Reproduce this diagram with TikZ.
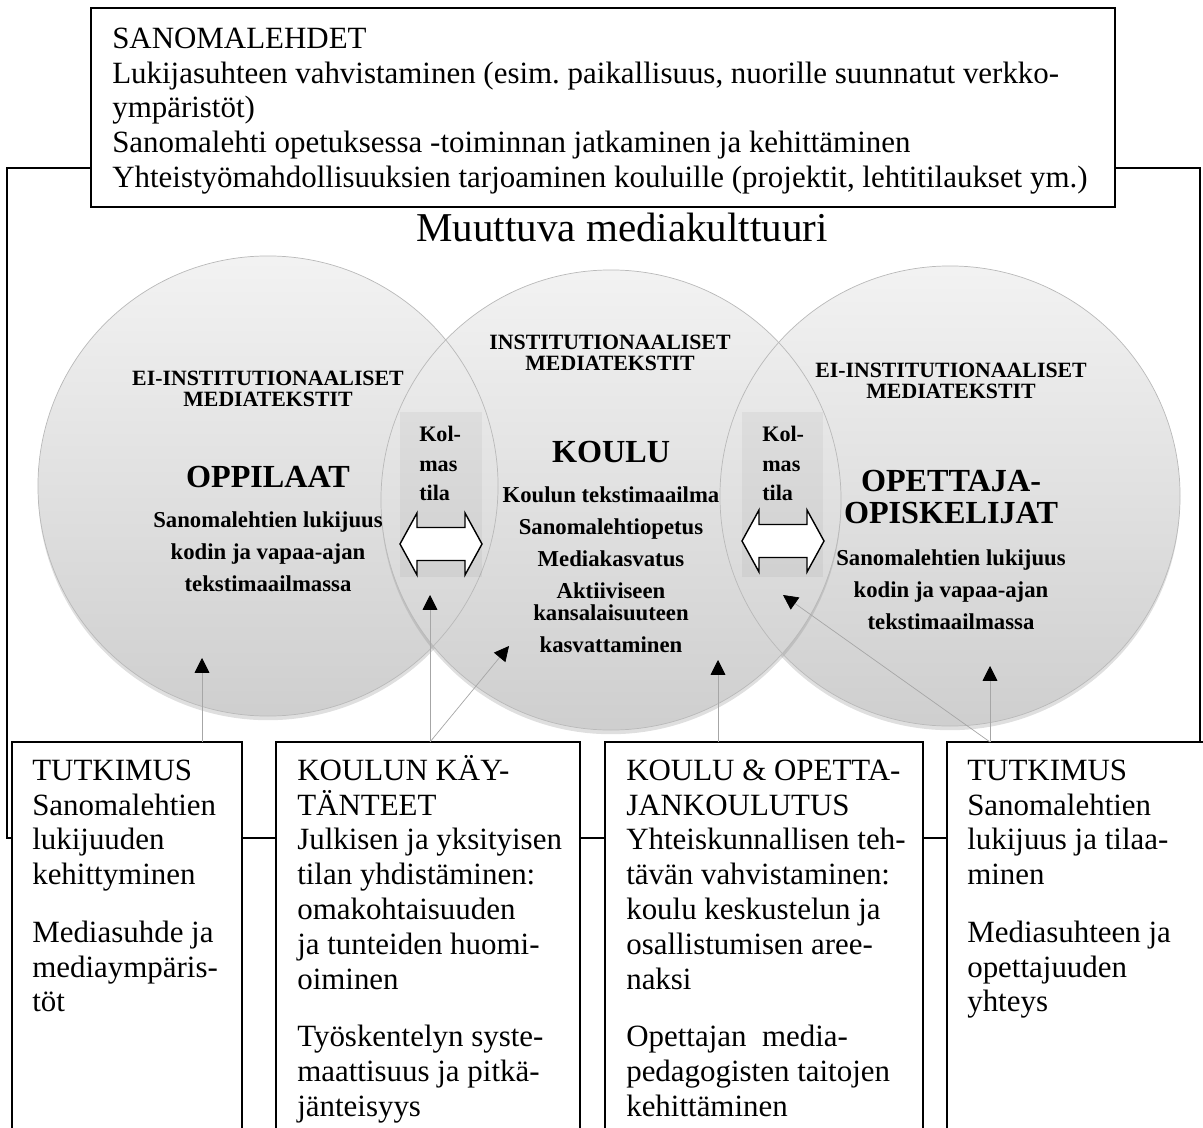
\documentclass[tikz,border=0pt]{standalone}
\usepackage{fontspec}
\setmainfont{Liberation Serif}[Scale=1.1]
\usetikzlibrary{positioning,calc,arrows.meta,shadows}

\newcommand{\bodystrut}{\rule{0pt}{20pt}}
\newcommand{\boldstrut}{\rule{0pt}{14pt}}
\newcommand{\bigstrut}{\rule{0pt}{20pt}}

\tikzset{
  frameline/.style={draw=black, line width=0.8pt},
  textbox/.style={draw=black, line width=1pt, fill=white, inner sep=0pt, outer sep=0pt, anchor=north west},
  bodytext/.style={anchor=north west, align=left, inner sep=0pt, font=\fontsize{20}{24.8}\selectfont},
  bubble/.style={circle, minimum size=460*0.025cm, inner sep=0pt, top color=white!95!black, bottom color=white!81!black,
    drop shadow={opacity=0.25, shadow xshift=0pt, shadow yshift=-3pt}},
  rim/.style={draw=gray!55, line width=0.5pt},
  headtext/.style={align=center, anchor=north, inner sep=0pt, font=\bfseries\fontsize{14.1}{14.9}\selectfont},
  bigtext/.style={align=center, anchor=north, inner sep=0pt, font=\bfseries\fontsize{20.8}{22.7}\selectfont},
  circtext/.style={align=center, anchor=north, inner sep=0pt, font=\bfseries\fontsize{14.7}{22.7}\selectfont},
  kolmas/.style={fill=black, fill opacity=0.045, draw=none},
  kolmastext/.style={align=left, anchor=north west, inner sep=0pt, font=\bfseries\fontsize{14.3}{20.9}\selectfont},
  tiparrow/.style={draw=gray!70, line width=0.5pt, -{Triangle[length=10.5pt,width=10.5pt,color=black,fill=black]}},
  bothways/.style={draw=black, line width=1pt, fill=white}
}

\begin{document}
\begin{tikzpicture}[x=0.025cm, y=-0.025cm]
\useasboundingbox (0,0) rectangle (1203,1128);

% outer frame behind everything
\draw[frameline] (7,168) rectangle (1200,838);

% the three circles
\node[bubble] (oppilaat) at (268,486) {};
\node[bubble] (opettajat) at (950,496) {};
\node[bubble] (koulu) at (611,500) {};
\draw[rim] (oppilaat.center) circle[radius=5.75cm];
\draw[rim] (opettajat.center) circle[radius=5.75cm];
\draw[rim] (koulu.center) circle[radius=5.75cm];

% third space
\fill[kolmas] (400,412) rectangle (482,577);
\fill[kolmas] (742,412) rectangle (823,577);
\node[kolmastext] (kolmasL) at (419,422) {\boldstrut Kol-\\mas\\tila};
\node[kolmastext] (kolmasR) at (762,422) {\boldstrut Kol-\\mas\\tila};
\draw[bothways, shift={(441,544)}] (-41,0) -- (-24,-31) -- (-24,-16.5) -- (24,-16.5) -- (24,-31) -- (41,0)
  -- (24,31) -- (24,16.5) -- (-24,16.5) -- (-24,31) -- cycle;
\draw[bothways, shift={(783,541)}] (-41,0) -- (-24,-31) -- (-24,-16.5) -- (24,-16.5) -- (24,-31) -- (41,0)
  -- (24,31) -- (24,16.5) -- (-24,16.5) -- (-24,31) -- cycle;

% title
\node[font=\fontsize{26.5}{30}\selectfont, anchor=base, inner sep=0pt] (culture) at (622,242) {Muuttuva mediakulttuuri};

% left circle
\node[headtext] (headL) at (268,365.3) {\boldstrut EI-INSTITUTIONAALISET\\MEDIATEKSTIT};
\node[bigtext] (pupils) at (268,458.8) {\bigstrut OPPILAAT};
\node[circtext] (bodyL) at (268,507.3) {\boldstrut Sanomalehtien lukijuus\\kodin ja vapaa-ajan\\tekstimaailmassa};

% middle circle
\node[headtext] (headM) at (610,329.3) {\boldstrut INSTITUTIONAALISET\\MEDIATEKSTIT};
\node[bigtext] (school) at (611,433.8) {\bigstrut KOULU};
\node[circtext, font=\bfseries\fontsize{14.7}{16.3}\selectfont] (bodyM) at (611,482.3)
  {\boldstrut Koulun tekstimaailma\\[6.4pt]Sanomalehtiopetus\\[6.4pt]Mediakasvatus\\[6.4pt]Aktiiviseen\\kansalaisuuteen\\[6.4pt]kasvattaminen};

% right circle
\node[headtext] (headR) at (951,357.3) {\boldstrut EI-INSTITUTIONAALISET\\MEDIATEKSTIT};
\node[bigtext] (teachers) at (951,462.8) {\bigstrut OPETTAJA-\\OPISKELIJAT};
\node[circtext] (bodyR) at (951,545.3) {\boldstrut Sanomalehtien lukijuus\\kodin ja vapaa-ajan\\tekstimaailmassa};

% newspaper box
\node[textbox, minimum width=1024*0.025cm, minimum height=199*0.025cm] (paper) at (91,8) {};
\node[bodytext] (papertext) at ($(paper.north west)+(21,11.8)$) {\bodystrut SANOMALEHDET\\
Lukijasuhteen vahvistaminen (esim.\ paikallisuus, nuorille suunnatut verkko-\\
ympäristöt)\\
Sanomalehti opetuksessa -toiminnan jatkaminen ja kehittäminen\\
Yhteistyömahdollisuuksien tarjoaminen kouluille (projektit, lehtitilaukset ym.)};

% bottom boxes
\node[textbox, minimum width=230*0.025cm, minimum height=400*0.025cm] (box1) at (12,742) {};
\node[textbox, minimum width=304*0.025cm, minimum height=400*0.025cm] (box2) at (276,742) {};
\node[textbox, minimum width=318*0.025cm, minimum height=400*0.025cm] (box3) at (605,742) {};
\node[textbox, minimum width=270*0.025cm, minimum height=400*0.025cm] (box4) at (947,742) {};

\node[bodytext] (text1) at ($(box1.north west)+(20,9.8)$) {\bodystrut TUTKIMUS\\Sanomalehtien\\lukijuuden\\kehittyminen\\[16pt]
Mediasuhde ja\\mediaympäris-\\töt};
\node[bodytext] (text2) at ($(box2.north west)+(21,9.8)$) {\bodystrut KOULUN KÄY-\\TÄNTEET\\Julkisen ja yksityisen\\tilan yhdistäminen:\\omakohtaisuuden\\ja tunteiden huomi-\\oiminen\\[16pt]
Työskentelyn syste-\\maattisuus ja pitkä-\\jänteisyys};
\node[bodytext] (text3) at ($(box3.north west)+(21,9.8)$) {\bodystrut KOULU \& OPETTA-\\JANKOULUTUS\\Yhteiskunnallisen teh-\\tävän vahvistaminen:\\koulu keskustelun ja\\osallistumisen aree-\\naksi\\[16pt]
Opettajan \ media-\\pedagogisten taitojen\\kehittäminen};
\node[bodytext] (text4) at ($(box4.north west)+(20,9.8)$) {\bodystrut TUTKIMUS\\Sanomalehtien\\lukijuus ja tilaa-\\minen\\[16pt]
Mediasuhteen ja\\opettajuuden\\yhteys};

% pointers into the circles
\coordinate (tipA) at (202,658);
\coordinate (tipB) at (430,595);
\coordinate (tipC) at (509,646);
\coordinate (tipD) at (718,660);
\coordinate (tipE) at (783,595);
\coordinate (tipF) at (990,666);
\draw[tiparrow] ($(box1.north west)+(190,0)$) -- (tipA);
\draw[tiparrow] ($(box2.north west)+(154,0)$) -- (tipB);
\draw[tiparrow] ($(box2.north west)+(154,0)$) -- (tipC);
\draw[tiparrow] ($(box3.north west)+(113,0)$) -- (tipD);
\draw[tiparrow] ($(box4.north west)+(43,0)$) -- (tipE);
\draw[tiparrow] ($(box4.north west)+(43,0)$) -- (tipF);

\end{tikzpicture}
\end{document}
